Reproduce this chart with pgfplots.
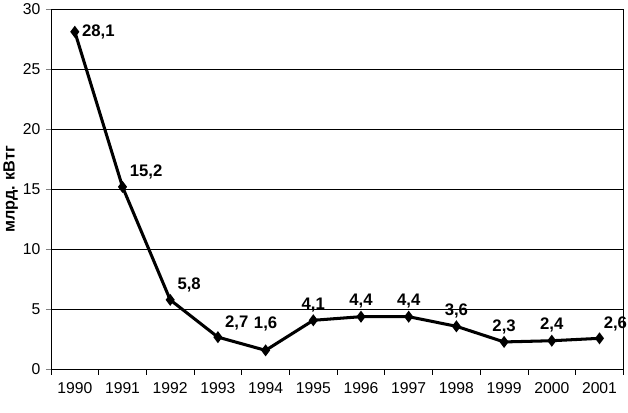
\documentclass[border=0pt]{standalone}
\usepackage{pgfplots}
\pgfplotsset{compat=1.18}
\usepackage{fontspec}
\setmainfont{Liberation Sans}
\begin{document}
\begin{tikzpicture}
\begin{axis}[
  scale only axis, width=565pt, height=356pt,
  xmin=-0.5, xmax=11.5, ymin=0, ymax=30,
  xtick={0,...,11},
  xticklabels={1990,1991,1992,1993,1994,1995,1996,1997,1998,1999,2000,2001},
  major x tick style={draw=none},
  minor xtick={-0.5,0.5,...,11.5},
  minor x tick style={black, line width=0.8pt},
  minor tick length=5pt,
  ytick={0,5,...,30},
  major tick length=5pt,
  tick align=outside, tick pos=left,
  ymajorgrids, grid style={black, line width=0.7pt},
  axis line style={line width=0.8pt},
  /pgf/number format/assume math mode=true,
  tick label style={font=\fontsize{15.5}{17}\selectfont},
  xticklabel style={yshift=-4pt},
  yticklabel style={xshift=-2pt},
  ylabel={\bfseries млрд. кВтг},
  ylabel style={font=\fontsize{16}{18}\selectfont, yshift=-2pt},
  nodes near coords, point meta=explicit symbolic,
  every node near coord/.append style={font=\bfseries\fontsize{16.5}{18}\selectfont, inner sep=1pt},
  clip=false,
]
\addplot[black, line width=3pt, mark=diamond*, mark size=3.5pt, nodes near coords=] coordinates {
(0,28.1) (1,15.2) (2,5.8) (3,2.7) (4,1.6) (5,4.1) (6,4.4) (7,4.4) (8,3.6) (9,2.3) (10,2.4) (11,2.6)};
\addplot[draw=none, mark=none, every node near coord/.append style={anchor=west, xshift=6pt}] coordinates {
(0,28.1) [28,1]};
\addplot[draw=none, mark=none, every node near coord/.append style={anchor=south west, xshift=6pt, yshift=6pt}] coordinates {
(1,15.2) [15,2] (2,5.8) [5,8] (3,2.7) [2,7]};
\addplot[draw=none, mark=none, every node near coord/.append style={anchor=south west, xshift=3pt, yshift=6pt}] coordinates {
(11,2.6) [2,6]};
\addplot[draw=none, mark=none, every node near coord/.append style={anchor=south, yshift=7pt}] coordinates {
(5,4.1) [4,1] (6,4.4) [4,4] (7,4.4) [4,4] (8,3.6) [3,6] (9,2.3) [2,3] (10,2.4) [2,4]};
\addplot[draw=none, mark=none, every node near coord/.append style={anchor=south, yshift=18pt}] coordinates {
(4,1.6) [1,6]};
\path (rel axis cs:0,0) ++(0,-42pt) coordinate (bb);
\path (bb) -- ++(1pt,0);
\end{axis}
\end{tikzpicture}
\end{document}
